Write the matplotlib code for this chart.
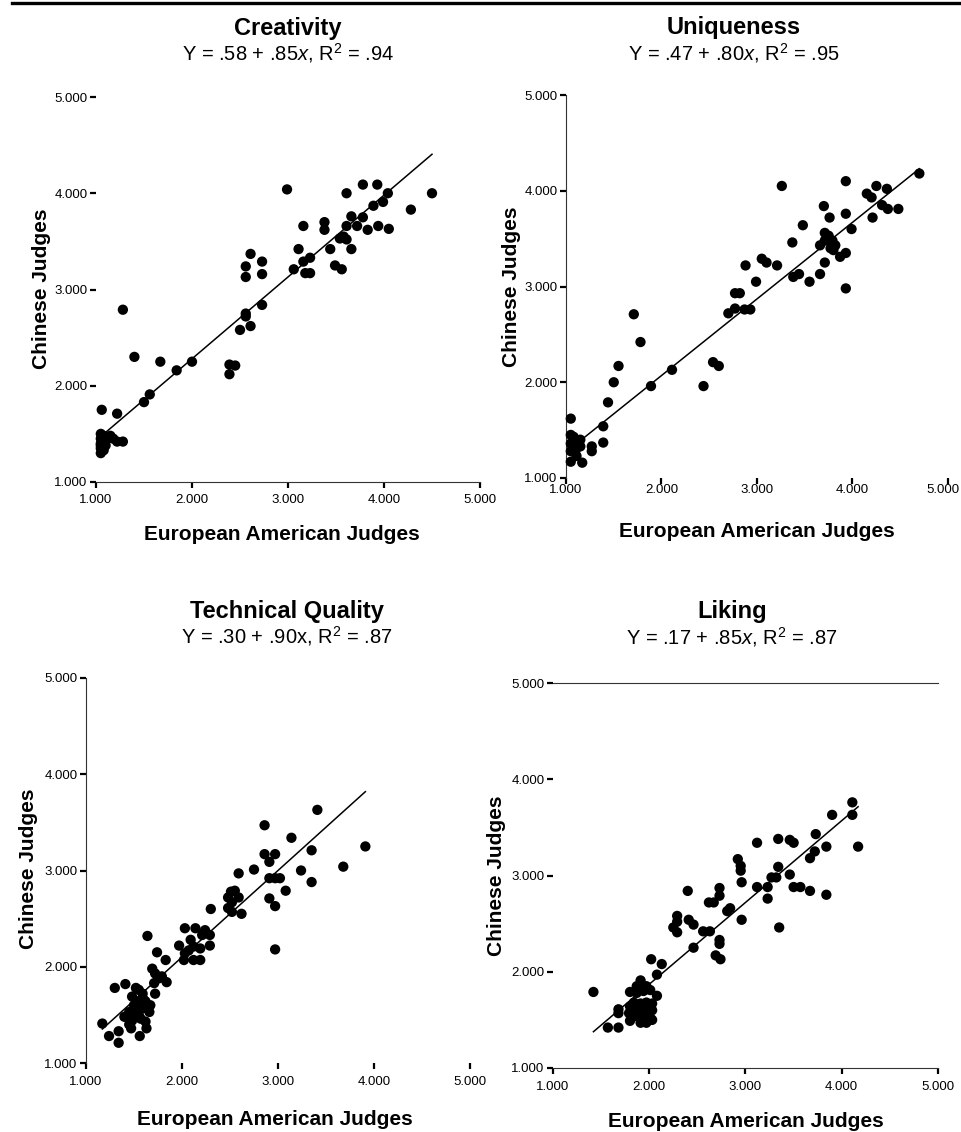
import matplotlib
matplotlib.use("Agg")
import matplotlib.pyplot as plt
from matplotlib.lines import Line2D
from matplotlib.transforms import ScaledTranslation

plt.rcParams['font.family'] = ['Liberation Sans', 'DejaVu Sans']
plt.rcParams['mathtext.fontset'] = 'custom'
plt.rcParams['mathtext.rm'] = 'Liberation Sans'
plt.rcParams['mathtext.it'] = 'Liberation Sans:italic'

# ---- data ----
titles = ["Creativity", "Uniqueness", "Technical Quality", "Liking"]
equations = [r"Y = .58 + .85$\it{x}$, R$^2$ = .94",
             r"Y = .47 + .80$\it{x}$, R$^2$ = .95",
             r"Y = .30 + .90x, R$^2$ = .87",
             r"Y = .17 + .85$\it{x}$, R$^2$ = .87"]
intercepts = [0.58, 0.47, 0.30, 0.17]
slopes = [0.85, 0.80, 0.90, 0.85]
ticks = [1, 2, 3, 4, 5]
xlabel = "European American Judges"
ylabel = "Chinese Judges"

creativity_x = [2.99, 3.61, 3.78, 3.93, 4.04, 4.50, 3.89, 3.99, 4.28, 3.16, 3.38, 3.38, 3.61,
                3.66, 3.78, 3.72, 3.83, 3.94, 4.05, 3.58, 3.61, 3.54, 3.66, 3.11, 3.44, 3.23,
                3.16, 3.06, 3.18, 3.23, 3.49, 3.56, 2.61, 2.56, 2.56, 2.73, 2.73, 2.73, 2.56,
                2.56, 2.61, 2.50, 2.39, 2.45, 2.39, 1.28, 1.40, 1.67, 2.00, 1.84, 1.56, 1.50,
                1.06, 1.22, 1.05, 1.05, 1.05, 1.05, 1.05, 1.08, 1.08, 1.10, 1.12, 1.15, 1.18,
                1.22, 1.28, 1.08, 1.05]
creativity_y = [4.04, 4.00, 4.09, 4.09, 4.00, 4.00, 3.87, 3.91, 3.83, 3.66, 3.70, 3.62, 3.66,
                3.76, 3.75, 3.66, 3.62, 3.66, 3.63, 3.55, 3.52, 3.53, 3.42, 3.42, 3.42, 3.33,
                3.29, 3.21, 3.17, 3.17, 3.25, 3.21, 3.37, 3.24, 3.13, 3.29, 3.16, 2.84, 2.75,
                2.72, 2.62, 2.58, 2.22, 2.21, 2.12, 2.79, 2.30, 2.25, 2.25, 2.16, 1.91, 1.83,
                1.75, 1.71, 1.50, 1.45, 1.40, 1.35, 1.30, 1.48, 1.42, 1.38, 1.45, 1.48, 1.45,
                1.42, 1.42, 1.33, 1.38]

uniqueness_x = [3.26, 3.93, 4.15, 4.20, 4.25, 4.36, 4.70, 4.31, 4.37, 4.48, 4.21, 3.70, 3.76,
                3.93, 3.99, 3.48, 3.37, 3.71, 3.66, 3.75, 3.79, 3.82, 3.77, 3.80, 3.71, 3.74,
                3.87, 3.93, 3.71, 3.66, 3.93, 3.38, 3.44, 3.55, 3.21, 3.05, 3.10, 2.99, 2.88,
                2.77, 2.82, 2.77, 2.70, 2.87, 2.93, 1.71, 1.78, 1.55, 1.50, 2.11, 1.89, 2.44,
                2.54, 2.60, 1.44, 1.39, 1.39, 1.27, 1.27, 1.05, 1.05, 1.05, 1.05, 1.05, 1.10,
                1.10, 1.15, 1.15, 1.17, 1.11, 1.08]
uniqueness_y = [4.05, 4.10, 3.97, 3.93, 4.05, 4.02, 4.18, 3.85, 3.81, 3.81, 3.72, 3.84, 3.72,
                3.76, 3.60, 3.64, 3.46, 3.56, 3.43, 3.53, 3.48, 3.43, 3.40, 3.38, 3.48, 3.51,
                3.31, 3.35, 3.25, 3.13, 2.98, 3.10, 3.13, 3.05, 3.22, 3.29, 3.25, 3.05, 3.22,
                2.93, 2.93, 2.77, 2.72, 2.76, 2.76, 2.71, 2.42, 2.17, 2.00, 2.13, 1.96, 1.96,
                2.21, 2.17, 1.79, 1.54, 1.37, 1.33, 1.28, 1.62, 1.45, 1.36, 1.28, 1.17, 1.40,
                1.29, 1.40, 1.33, 1.16, 1.23, 1.43]

technical_x = [2.86, 3.14, 3.35, 3.91, 2.86, 2.97, 2.91, 2.59, 2.75, 3.24, 3.68, 3.35, 2.91,
               2.97, 3.02, 3.08, 2.91, 2.97, 2.97, 3.41, 2.51, 2.48, 2.55, 2.52, 2.48, 2.52,
               2.59, 2.62, 2.30, 2.03, 2.14, 2.24, 2.21, 2.29, 2.29, 2.19, 1.97, 2.09, 2.12,
               2.03, 2.02, 2.12, 2.19, 2.07, 1.64, 1.74, 1.83, 1.69, 1.72, 1.76, 1.79, 1.84,
               1.72, 1.71, 1.30, 1.41, 1.52, 1.59, 1.48, 1.55, 1.62, 1.67, 1.50, 1.59, 1.45,
               1.55, 1.66, 1.40, 1.48, 1.57, 1.62, 1.45, 1.55, 1.52, 1.60, 1.50, 1.17, 1.24,
               1.34, 1.34, 1.47, 1.63, 1.56]
technical_y = [3.47, 3.34, 3.21, 3.25, 3.17, 3.17, 3.09, 2.97, 3.01, 3.00, 3.04, 2.88, 2.92,
               2.92, 2.92, 2.79, 2.71, 2.63, 2.18, 3.63, 2.78, 2.72, 2.79, 2.67, 2.61, 2.57,
               2.72, 2.55, 2.60, 2.40, 2.40, 2.38, 2.33, 2.33, 2.22, 2.19, 2.22, 2.28, 2.21,
               2.14, 2.07, 2.07, 2.07, 2.17, 2.32, 2.15, 2.07, 1.98, 1.93, 1.88, 1.90, 1.84,
               1.72, 1.83, 1.78, 1.82, 1.78, 1.72, 1.69, 1.64, 1.64, 1.60, 1.60, 1.57, 1.53,
               1.50, 1.53, 1.48, 1.44, 1.46, 1.43, 1.40, 1.76, 1.55, 1.66, 1.48, 1.41, 1.28,
               1.33, 1.21, 1.36, 1.36, 1.28]

liking_x = [4.11, 4.11, 3.90, 4.17, 3.73, 3.84, 3.72, 3.67, 3.34, 3.46, 3.50, 3.12, 2.92,
            2.95, 2.95, 3.34, 3.46, 3.27, 3.32, 2.96, 3.12, 3.23, 3.50, 3.57, 3.67, 3.84,
            3.23, 3.35, 2.40, 2.73, 2.73, 2.62, 2.67, 2.81, 2.84, 2.96, 2.29, 2.29, 2.41,
            2.46, 2.25, 2.29, 2.56, 2.63, 2.46, 2.73, 2.73, 2.69, 2.74, 2.02, 2.13, 2.08,
            1.42, 1.91, 1.87, 1.97, 1.80, 1.87, 1.94, 2.01, 2.08, 1.84, 1.91, 1.97, 2.03,
            1.80, 1.87, 1.96, 2.03, 1.79, 1.85, 1.94, 2.01, 1.80, 1.91, 1.97, 2.03, 1.68,
            1.68, 1.57, 1.68]
liking_y = [3.76, 3.63, 3.63, 3.30, 3.43, 3.30, 3.25, 3.18, 3.38, 3.37, 3.34, 3.34, 3.17,
            3.10, 3.05, 3.09, 3.01, 2.98, 2.98, 2.93, 2.88, 2.88, 2.88, 2.88, 2.84, 2.80,
            2.76, 2.46, 2.84, 2.87, 2.79, 2.72, 2.72, 2.63, 2.66, 2.54, 2.58, 2.52, 2.54,
            2.49, 2.46, 2.41, 2.42, 2.42, 2.25, 2.33, 2.29, 2.17, 2.13, 2.13, 2.08, 1.97,
            1.79, 1.91, 1.85, 1.85, 1.79, 1.78, 1.80, 1.81, 1.75, 1.68, 1.67, 1.68, 1.67,
            1.64, 1.60, 1.60, 1.60, 1.57, 1.54, 1.54, 1.52, 1.49, 1.47, 1.47, 1.50, 1.61,
            1.57, 1.42, 1.42]

xs = [creativity_x, uniqueness_x, technical_x, liking_x]
ys = [creativity_y, uniqueness_y, technical_y, liking_y]

# ---- layout (pixels on a 962x1132 canvas) ----
W, H = 962, 1132
# px of x=1, px of x=5, py of y=1, py of y=5
frames = [(96, 480, 482, 97), (566, 948, 478, 95), (86, 470, 1063, 678), (553, 938, 1068, 683)]
spines_on = [("bottom",), ("left",), ("left",), ("bottom", "top")]
xpads = [4.5, 0.5, 5.5, 5]
title_pos = [(288, 35, 60), (734, 34, 60), (287, 618, 643), (732, 618, 644)]
xlab_pos = [(282, 540), (757, 537), (275, 1125), (746, 1127)]
ylab_pos = [(42, 289), (512, 287), (29, 869), (497, 876)]

fig = plt.figure(figsize=(W / 100, H / 100), dpi=100)

for i in range(4):
    x1, x5, y1, y5 = frames[i]
    ax = fig.add_axes([x1 / W, 1 - y1 / H, (x5 - x1) / W, (y1 - y5) / H])
    ax.set_xlim(1, 5)
    ax.set_ylim(1, 5)
    for s in ["left", "right", "top", "bottom"]:
        ax.spines[s].set_visible(s in spines_on[i])
        ax.spines[s].set_linewidth(0.8)
        ax.spines[s].set_color("#333333")

    ax.scatter(xs[i], ys[i], s=55, c="black", edgecolors="none", zorder=3, clip_on=False)
    lx = [min(xs[i]), max(xs[i])]
    ly = [intercepts[i] + slopes[i] * v for v in lx]
    ax.plot(lx, ly, color="black", lw=1.1, zorder=2)

    ax.set_xticks(ticks)
    ax.set_yticks(ticks)
    ax.set_xticklabels(["%.3f" % t for t in ticks], fontsize=9.5)
    ax.set_yticklabels(["%.3f" % t for t in ticks], fontsize=9.5)
    ax.tick_params(axis="x", direction="out", length=4, width=1.6, pad=xpads[i])
    ax.tick_params(axis="y", direction="out", length=4.5, width=1.6, pad=1.5)

    # the right-most label of the top-right panel sits at the page edge; nudge it in
    if i == 1:
        lbl = ax.get_xticklabels()[-1]
        lbl.set_transform(lbl.get_transform() + ScaledTranslation(-0.05, 0, fig.dpi_scale_trans))

    tx, ty1, ty2 = title_pos[i]
    fig.text(tx / W, 1 - ty1 / H, titles[i], ha="center", va="baseline",
             fontsize=17, fontweight="bold")
    fig.text(tx / W, 1 - ty2 / H, equations[i], ha="center", va="baseline", fontsize=14.5)
    fig.text(xlab_pos[i][0] / W, 1 - xlab_pos[i][1] / H, xlabel, ha="center", va="baseline",
             fontsize=15, fontweight="bold")
    fig.text(ylab_pos[i][0] / W, 1 - ylab_pos[i][1] / H, ylabel, ha="center", va="center",
             rotation=90, fontsize=15, fontweight="bold")

# thick rule across the top
fig.add_artist(Line2D([12 / W, 1], [1 - 3 / H, 1 - 3 / H], color="black", lw=2.4))

fig.savefig("out.png", dpi=100)
